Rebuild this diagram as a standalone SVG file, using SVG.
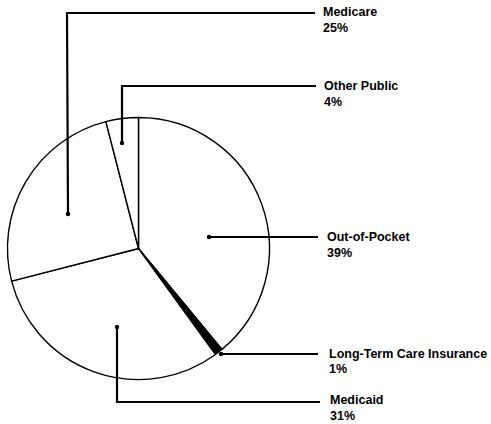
<svg xmlns="http://www.w3.org/2000/svg" width="491" height="424" viewBox="0 0 491 424">
<style>
.slice{fill:#fff;stroke:#000;stroke-width:1.4;stroke-linejoin:round}
.ltc{fill:#000;stroke:#000;stroke-width:1.2}
.lead{fill:none;stroke:#000;stroke-width:2.2}
.dot{fill:#000}
.lbl{font-family:"Liberation Sans",Arial,sans-serif;font-weight:bold;font-size:12.5px;fill:#000}
</style>
<rect width="491" height="424" fill="#fff"/>
<g id="pie">
<g id="slice-out-of-pocket"><path class="slice" d="M138.5,248.5 L138.5,117.5 A131,131 0 0 1 222,349.4 Z"/></g>
<g id="slice-ltc"><path class="ltc" d="M138.5,248.5 L222,349.4 A131,131 0 0 1 215.5,354.5 Z"/></g>
<g id="slice-medicaid"><path class="slice" d="M138.5,248.5 L215.5,354.5 A131,131 0 0 1 11.6,281.1 Z"/></g>
<g id="slice-medicare"><path class="slice" d="M138.5,248.5 L11.6,281.1 A131,131 0 0 1 105.9,121.6 Z"/></g>
<g id="slice-other-public"><path class="slice" d="M138.5,248.5 L105.9,121.6 A131,131 0 0 1 138.5,117.5 Z"/></g>
</g>
<g id="connectors">
<polyline class="lead" points="68,214 67,13 315,13"/>
<circle class="dot" cx="68" cy="214" r="2.2"/>
<polyline class="lead" points="122,143 122,86 316,86"/>
<circle class="dot" cx="122" cy="143" r="2.2"/>
<polyline class="lead" points="209,237 318,237"/>
<circle class="dot" cx="209" cy="237" r="2.2"/>
<polyline class="lead" points="220,354 318,354"/>
<circle class="dot" cx="221" cy="354" r="2.2"/>
<polyline class="lead" points="117,327 117,402 320,402"/>
<circle class="dot" cx="117" cy="327" r="2.2"/>
</g>
<g id="label-medicare"><text class="lbl" x="323" y="16">Medicare</text><text class="lbl" x="323" y="32">25%</text></g>
<g id="label-other-public"><text class="lbl" x="324" y="90">Other Public</text><text class="lbl" x="324" y="106">4%</text></g>
<g id="label-out-of-pocket"><text class="lbl" x="327" y="241">Out-of-Pocket</text><text class="lbl" x="327" y="257">39%</text></g>
<g id="label-ltc"><text class="lbl" x="329" y="358">Long-Term Care Insurance</text><text class="lbl" x="329" y="373">1%</text></g>
<g id="label-medicaid"><text class="lbl" x="330" y="404">Medicaid</text><text class="lbl" x="330" y="420">31%</text></g>
</svg>
